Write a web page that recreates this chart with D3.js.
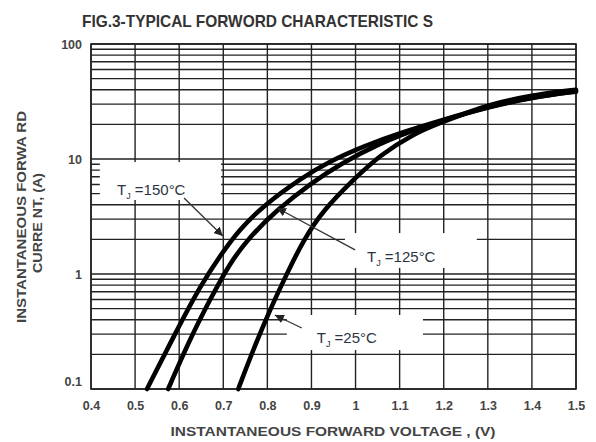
<!DOCTYPE html>
<html>
<head>
<meta charset="utf-8">
<script src="https://cdn.jsdelivr.net/npm/d3@7"></script>
<style>
  body { margin: 0; background: #fff; }
  svg { display: block; font-family: 'Liberation Sans', Arial, sans-serif; }
</style>
</head>
<body>
<script>
// tick values
var voltageTicks = [0.4, 0.5, 0.6, 0.7, 0.8, 0.9, 1, 1.1, 1.2, 1.3, 1.4, 1.5];
var currentTicks = [0.1, 1, 10, 100];

// curves (V, A)
var tj150Volts = [0.527, 0.594, 0.647, 0.696, 0.735, 0.79, 0.876, 0.94, 1.02, 1.1, 1.2, 1.3, 1.4, 1.5];
var tj150Amps  = [0.1, 0.32, 0.78, 1.5, 2.4, 3.9, 6.8, 9.5, 13, 16.8, 22, 28.5, 34.5, 38.5];

var tj125Volts = [0.575, 0.624, 0.67, 0.715, 0.76, 0.821, 0.9, 0.965, 1.05, 1.15, 1.25, 1.35, 1.45, 1.5];
var tj125Amps  = [0.1, 0.27, 0.6, 1.25, 2.1, 3.6, 6.2, 9.0, 13.5, 19, 25, 31.5, 36.5, 38.8];

var tj25Volts = [0.734, 0.768, 0.806, 0.844, 0.881, 0.927, 0.995, 1.055, 1.131, 1.191, 1.25, 1.3, 1.4, 1.5];
var tj25Amps  = [0.1, 0.22, 0.49, 1.0, 1.95, 3.6, 6.6, 10.8, 16.5, 20.6, 25, 29.5, 36, 40];

var labelTemps = ['150', '125', '25'];

var chart = function() {
  var width = 596;
  var height = 442;
  var margin = {left: 91, right: 20, top: 44, bottom: 53};
  var svg, x, y;
  var inkColor = '#222';
  var textColor = '#444';

  var initialize = function() {
    x = d3.scaleLinear()
      .domain([0.4, 1.5])
      .range([margin.left, width - margin.right]);
    y = d3.scaleLog()
      .domain([0.1, 100])
      .range([height - margin.bottom, margin.top]);
  };

  var createSvg = function() {
    svg = d3.select('body')
      .append('svg')
      .attr('width', width)
      .attr('height', height);
  };

  var minorCurrents = function() {
    var list = [];
    for(var d = 0.1; d < 100; d *= 10) {
      for(var k = 2; k <= 9; k++) {
        list.push(+(d * k).toFixed(3));
      }
    }
    return list;
  };

  var drawGrid = function() {
    var g = svg.append('g').attr('stroke', inkColor).attr('stroke-width', 1.4);
    voltageTicks.forEach(function(v) {
      g.append('line')
        .attr('x1', x(v)).attr('x2', x(v))
        .attr('y1', y(0.1)).attr('y2', y(100));
    });
    currentTicks.concat(minorCurrents()).forEach(function(a) {
      g.append('line')
        .attr('x1', x(0.4)).attr('x2', x(1.5))
        .attr('y1', y(a)).attr('y2', y(a));
    });
  };

  // white patches behind the labels, in data units
  var drawLabelBoxes = function() {
    var boxes = [
      {v0: 0.42, v1: 0.695, a0: 9.4, a1: 4.4},
      {v0: 0.976, v1: 1.275, a0: 2.27, a1: 1.13},
      {v0: 0.844, v1: 1.153, a0: 0.44, a1: 0.218}
    ];
    boxes.forEach(function(b) {
      svg.append('rect')
        .attr('x', x(b.v0))
        .attr('y', y(b.a0))
        .attr('width', x(b.v1) - x(b.v0))
        .attr('height', y(b.a1) - y(b.a0))
        .style('fill', '#fff');
    });
  };

  var drawFrame = function() {
    svg.append('rect')
      .attr('x', x(0.4))
      .attr('y', y(100))
      .attr('width', x(1.5) - x(0.4))
      .attr('height', y(0.1) - y(100))
      .style('fill', 'none')
      .style('stroke', inkColor)
      .style('stroke-width', 1.6);
  };

  var drawCurves = function() {
    var line = d3.line()
      .x(function(d) { return x(d[0]); })
      .y(function(d) { return y(d[1]); })
      .curve(d3.curveBasis);
    [[tj150Volts, tj150Amps], [tj125Volts, tj125Amps], [tj25Volts, tj25Amps]].forEach(function(s) {
      svg.append('path')
        .datum(d3.zip(s[0], s[1]))
        .attr('d', line)
        .style('fill', 'none')
        .style('stroke', '#000')
        .style('stroke-width', 4.6)
        .style('stroke-linecap', 'round');
    });
  };

  var drawAxes = function() {
    var xAxis = d3.axisBottom(x)
      .tickValues(voltageTicks)
      .tickSize(0)
      .tickPadding(12)
      .tickFormat(d3.format('~g'));
    var gx = svg.append('g')
      .attr('transform', 'translate(0,' + y(0.1) + ')')
      .call(xAxis);
    gx.select('.domain').remove();
    gx.selectAll('text')
      .style('font-size', '12.5px')
      .style('font-weight', 'bold')
      .style('fill', textColor);

    var yAxis = d3.axisLeft(y)
      .tickValues(currentTicks)
      .tickSize(0)
      .tickPadding(9)
      .tickFormat(d3.format('~g'));
    var gy = svg.append('g')
      .attr('transform', 'translate(' + x(0.4) + ',0)')
      .call(yAxis);
    gy.select('.domain').remove();
    gy.selectAll('text')
      .style('font-size', '12.5px')
      .style('font-weight', 'bold')
      .style('fill', textColor);
    gy.selectAll('.tick')
      .filter(function(d) { return d === 0.1; })
      .select('text')
      .attr('dy', '-0.3em');
  };

  var drawTitles = function() {
    svg.append('text')
      .attr('x', 82)
      .attr('y', 27)
      .attr('textLength', 351)
      .attr('lengthAdjust', 'spacingAndGlyphs')
      .style('font-size', '17px')
      .style('font-weight', 'bold')
      .style('fill', '#333')
      .text('FIG.3-TYPICAL FORWORD CHARACTERISTIC S');

    svg.append('text')
      .attr('x', 333)
      .attr('y', 436)
      .attr('text-anchor', 'middle')
      .attr('textLength', 325)
      .attr('lengthAdjust', 'spacingAndGlyphs')
      .style('font-size', '12.5px')
      .style('font-weight', 'bold')
      .style('fill', textColor)
      .text('INSTANTANEOUS FORWARD VOLTAGE , (V)');

    var yt = svg.append('g')
      .attr('transform', 'translate(26,217) rotate(-90)');
    yt.append('text')
      .attr('text-anchor', 'middle')
      .attr('textLength', 212)
      .attr('lengthAdjust', 'spacingAndGlyphs')
      .style('font-size', '12.5px')
      .style('font-weight', 'bold')
      .style('fill', textColor)
      .text('INSTANTANEOUS FORWA RD');
    yt.append('text')
      .attr('x', -6)
      .attr('y', 16)
      .attr('text-anchor', 'middle')
      .attr('textLength', 100)
      .attr('lengthAdjust', 'spacingAndGlyphs')
      .style('font-size', '12.5px')
      .style('font-weight', 'bold')
      .style('fill', textColor)
      .text('CURRE NT, (A)');
  };

  var drawLabels = function() {
    svg.append('defs').append('marker')
      .attr('id', 'head')
      .attr('viewBox', '0 0 10 10')
      .attr('refX', 10).attr('refY', 5)
      .attr('markerWidth', 9).attr('markerHeight', 9)
      .attr('markerUnits', 'userSpaceOnUse')
      .attr('orient', 'auto')
      .append('path')
      .attr('d', 'M0,0L10,5L0,10z')
      .style('fill', '#222');

    var spots = [
      {tv: 0.459, ta: 4.86, from: [0.611, 4.58], to: [0.699, 2.14]},
      {tv: 1.026, ta: 1.27, from: [0.999, 1.62], to: [0.822, 3.75]},
      {tv: 0.912, ta: 0.251, from: [0.878, 0.339], to: [0.817, 0.44]}
    ];
    spots.forEach(function(s, i) {
      svg.append('line')
        .attr('x1', x(s.from[0])).attr('y1', y(s.from[1]))
        .attr('x2', x(s.to[0])).attr('y2', y(s.to[1]))
        .style('stroke', '#333')
        .style('stroke-width', 1.3)
        .attr('marker-end', 'url(#head)');

      var t = svg.append('text')
        .attr('x', x(s.tv))
        .attr('y', y(s.ta))
        .style('font-size', '15px')
        .style('fill', '#2c3442');
      t.append('tspan').text('T');
      t.append('tspan').attr('dy', 4).style('font-size', '9px').text('J');
      t.append('tspan').attr('dy', -4).text(' =' + labelTemps[i] + '°C');
    });
  };

  var public = {
    initialize: initialize,
    createSvg: createSvg,
    drawGrid: drawGrid,
    drawLabelBoxes: drawLabelBoxes,
    drawFrame: drawFrame,
    drawCurves: drawCurves,
    drawAxes: drawAxes,
    drawTitles: drawTitles,
    drawLabels: drawLabels
  };

  return public;
}();

chart.initialize();
chart.createSvg();
chart.drawGrid();
chart.drawLabelBoxes();
chart.drawFrame();
chart.drawCurves();
chart.drawAxes();
chart.drawTitles();
chart.drawLabels();
</script>
</body>
</html>
